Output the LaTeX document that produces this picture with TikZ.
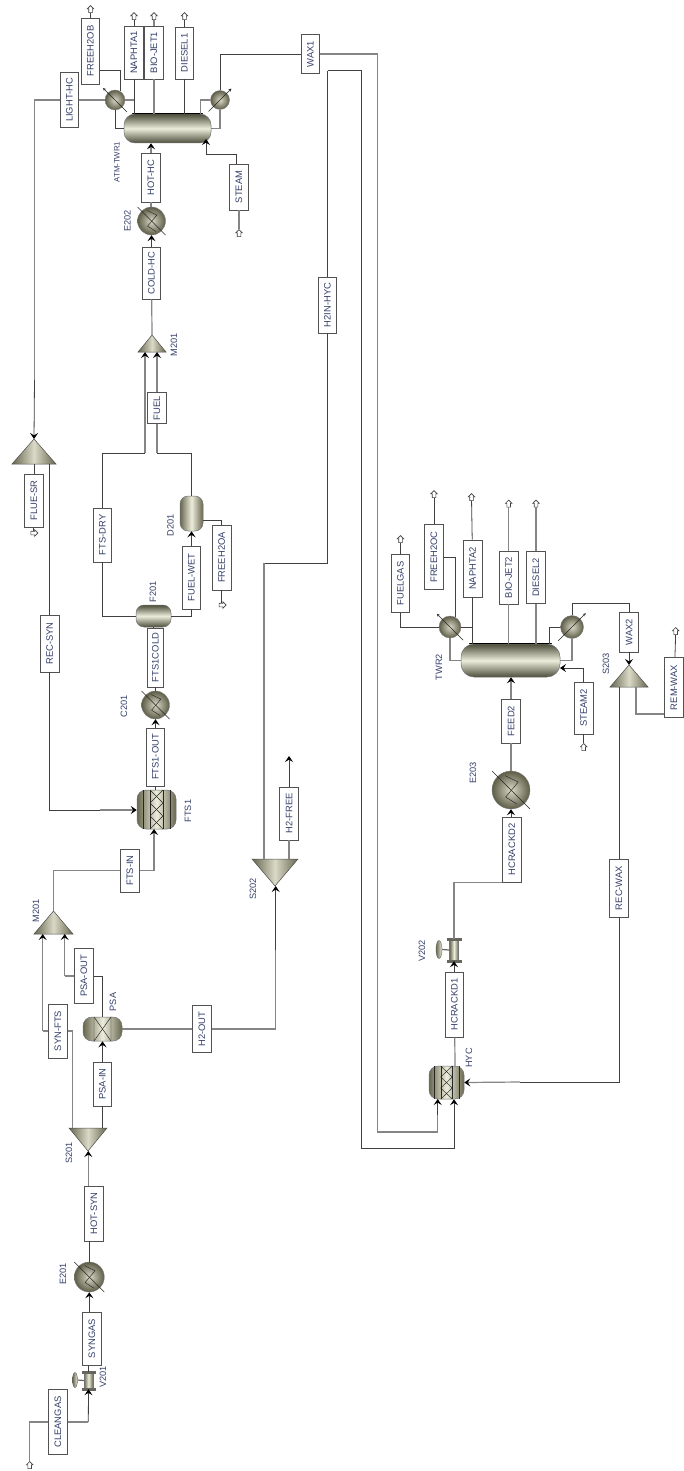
\documentclass[tikz,border=0pt]{standalone}
\usepackage{fontspec}
\setmainfont{Liberation Sans}
\usetikzlibrary{arrows.meta,calc,shapes.arrows,shapes.geometric}
\definecolor{labelink}{HTML}{35406A}
\definecolor{metaldark}{HTML}{67674F}
\definecolor{metallight}{HTML}{EDEDDC}
\tikzset{
  tag/.style={draw=black!68, line width=0.9pt, fill=white, rotate=90, inner sep=0pt,
    minimum width=#1pt, minimum height=18.5pt, font=\fontsize{9.4}{10}\selectfont, text=labelink},
  blocktag/.style={rotate=90, inner sep=0pt, font=\fontsize{9.2}{10}\selectfont, text=labelink},
  outup/.style={single arrow, draw=black!75, fill=white, line width=0.6pt, rotate=90, inner xsep=0pt, inner ysep=1.5pt,
    minimum height=7pt, single arrow head extend=1.5pt},
  outdown/.style={outup, rotate=-90},
  stream/.style={draw=black!75, line width=0.8pt},
  streamg/.style={draw=black!48, line width=1.2pt},
  into/.style={-{Stealth[length=6pt, width=8pt, inset=2.4pt, black]}},
  drum/.style={draw=black!55, line width=0.5pt, rounded corners=#1pt, top color=metaldark!75!black,
    bottom color=metaldark!75!black, middle color=metallight, inner sep=0pt},
  bed/.style={draw=black!55, line width=0.5pt, rounded corners=9pt, left color=metaldark,
    right color=metaldark, middle color=metallight, inner sep=0pt},
  ball/.style={circle, draw=black!50, line width=0.4pt, inner color=metallight!85!metaldark, outer color=metaldark!90!black,
    inner sep=0pt, minimum size=#1pt},
  hood/.style={inner sep=0pt, outer sep=0pt, minimum width=#1pt},
  cone/.style={draw=black!70, line width=0.5pt, left color=metaldark, right color=metaldark, middle color=metallight!85!metaldark},
  valvebody/.style={draw=black!55, line width=0.4pt, left color=metaldark, right color=metaldark, middle color=metallight,
    inner sep=0pt, minimum width=9pt, minimum height=#1pt},
  wheel/.style={ellipse, draw=black!60, line width=0.4pt, left color=metaldark, right color=metallight, inner sep=0pt},
  thinline/.style={draw=black!85, line width=0.45pt}
}
\begin{document}
\begin{tikzpicture}[x=1pt, y=-1pt]
\useasboundingbox (0,0) rectangle (683,1471);
% Equipment
\node[drum=11, minimum width=87pt, minimum height=29pt] (twr1) at (167.5,128.5) {};
\node[drum=13, minimum width=99pt, minimum height=33pt] (twr2) at (510.5,660.5) {};
\node[ball=20] (cond1) at (115,100) {};
\node[ball=19] (reb1) at (220,100) {};
\node[ball=22] (cond2) at (450,627) {};
\node[ball=23] (reb2) at (572,627) {};
\node[ball=30] (e201) at (89.3,1277) {};
\node[ball=28] (e202) at (151.5,221) {};
\node[ball=28] (c201) at (155.5,705) {};
\node[ball=38] (e203) at (511,790) {};
\node[bed, minimum width=39pt, minimum height=39pt] (fts1) at (156.5,809.5) {};
\node[bed, minimum width=35pt, minimum height=33pt] (hyc) at (446.5,1082.5) {};
\node[bed, minimum width=39pt, minimum height=24pt] (psa) at (102.5,1029) {};
\node[drum=8, minimum width=35pt, minimum height=22pt] (f201) at (153.5,616) {};
\node[bed, rounded corners=8pt, minimum width=23pt, minimum height=35pt] (d201) at (191.5,513.5) {};
\node[valvebody=17] (v201) at (88.5,1380.5) {};
\node[valvebody=22] (v202) at (454,950) {};
\node[wheel, minimum width=5pt, minimum height=15pt] (v201w) at (75,1380) {};
\node[wheel, minimum width=6pt, minimum height=18pt] (v202w) at (439,949.5) {};
% Mixers and splitters
\node[hood=28, minimum height=17pt] (m201a) at (152,343.5) {};
\node[hood=44, minimum height=25pt] (fluesr) at (34,451.5) {};
\node[hood=39, minimum height=23pt] (m201b) at (53.5,922.5) {};
\node[hood=46, minimum height=27pt] (s202) at (275,872.5) {};
\node[hood=38, minimum height=23pt] (s201) at (88,1139.5) {};
\node[hood=38, minimum height=22pt] (s203) at (629,676) {};
\foreach \up in {m201a,fluesr,m201b,s203}
  \draw[cone] (\up.south west) -- (\up.south east) -- (\up.north) -- cycle;
\foreach \dn in {s202,s201}
  \draw[cone] (\dn.north west) -- (\dn.north east) -- (\dn.south) -- cycle;
% Equipment details
\foreach \col in {twr1,twr2}
  \draw[black, line width=1.3pt, line cap=round] ($(\col.north west)+(9,0)$) -- ($(\col.north east)+(-9,0)$);
\foreach \hx/\r in {e201/15,e202/14,c201/14,e203/19} {
  \draw[thinline] ($(\hx)+(-\r,-\r)$) -- ($(\hx)+(\r,\r)$);
  \draw[thinline] ($(\hx)+(-.3*\r,-.75*\r)$) -- ($(\hx)+(.38*\r,-.42*\r)$) -- ($(\hx)+(-.28*\r,.37*\r)$) -- ($(\hx)+(.32*\r,.75*\r)$);
}
\foreach \cd/\r in {cond1/10,cond2/11}
  \draw[thinline, {Stealth[open, length=3pt, width=3pt]}-] ($(\cd)+(-1.2*\r,-1.2*\r)$) -- ($(\cd)+(1.2*\r,1.2*\r)$);
\foreach \rb/\r in {reb1/9.5,reb2/11.5}
  \draw[thinline, -{Stealth[open, length=3pt, width=3pt]}] ($(\rb)+(-1.2*\r,1.2*\r)$) -- ($(\rb)+(1.2*\r,-1.2*\r)$);
\foreach \rx/\w/\h in {fts1/19.5/19.5,hyc/17.5/16.5} {
  \foreach \lx in {-.7,-.33,.33,.7}
    \draw[thinline] ($(\rx)+(\lx*\w,-\h)$) -- ($(\rx)+(\lx*\w,\h)$);
  \foreach \k in {0,1,2} {
    \draw[thinline] ($(\rx)+(-.33*\w,-\h+.667*\k*\h)$) -- ($(\rx)+(.33*\w,-\h+.667*\k*\h+.667*\h)$);
    \draw[thinline] ($(\rx)+(.33*\w,-\h+.667*\k*\h)$) -- ($(\rx)+(-.33*\w,-\h+.667*\k*\h+.667*\h)$);
  }
}
\draw[thinline] (94,1017) -- (94,1041) -- (111,1017) -- (111,1041);
\draw[thinline] (94,1017) -- (111,1041);
\foreach \vlv in {v201,v202} {
  \fill[metaldark, draw=black!60, line width=0.3pt] ($(\vlv.north west)+(-2,-1)$) rectangle ($(\vlv.north east)+(2,1.5)$);
  \fill[metaldark, draw=black!60, line width=0.3pt] ($(\vlv.south west)+(-2,-1.5)$) rectangle ($(\vlv.south east)+(2,1)$);
}
\draw[draw=black!60, line width=1.2pt] (v201.west) -- (v201w.east);
\draw[draw=black!60, line width=1.2pt] (v202.west) -- (v202w.east);
% Stream tags
\node[tag=66] (freeh2ob) at (90.5,51) {FREEH2OB};
\node[tag=55] (lighthc) at (69.5,100) {LIGHT-HC};
\node[tag=53] (naphta1) at (134,52.5) {NAPHTA1};
\node[tag=53] (biojet1) at (154,52.5) {BIO-JET1};
\node[tag=52] (diesel1) at (184.5,53) {DIESEL1};
\node[tag=39] (wax1) at (310.5,54) {WAX1};
\node[tag=49] (hothc) at (151,177.5) {HOT-HC};
\node[tag=46] (steam) at (239,187) {STEAM};
\node[tag=52] (coldhc) at (151.5,273) {COLD-HC};
\node[tag=56] (h2inhyc) at (327.5,305) {H2IN-HYC};
\node[tag=31] (fuel) at (157,408) {FUEL};
\node[tag=53] (fuesr) at (34,500.5) {FLUE-SR};
\node[tag=54] (ftsdry) at (102.5,535) {FTS-DRY};
\node[tag=63] (fuelwet) at (191.5,577.5) {FUEL-WET};
\node[tag=65] (freeh2oa) at (221.7,557.5) {FREEH2OA};
\node[tag=57] (recsyn) at (49.7,643.5) {REC-SYN};
\node[tag=59, minimum height=15.5pt] (fts1cold) at (155.5,657.5) {FTS1COLD};
\node[tag=58] (fts1out) at (155.5,757) {FTS1-OUT};
\node[tag=53] (h2free) at (289,813.5) {H2-FREE};
\node[tag=43] (ftsin) at (130,870.5) {FTS-IN};
\node[tag=55] (psaout) at (84,976) {PSA-OUT};
\node[tag=54] (synfts) at (58,1031) {SYN-FTS};
\node[tag=47] (h2out) at (202,1029) {H2-OUT};
\node[tag=44] (psain) at (102.5,1084) {PSA-IN};
\node[tag=55] (hotsyn) at (94,1213.5) {HOT-SYN};
\node[tag=53] (syngas) at (92,1338.5) {SYNGAS};
\node[tag=65] (cleangas) at (58,1422) {CLEANGAS};
\node[tag=58] (fuelgas) at (400.5,583.5) {FUELGAS};
\node[tag=65] (freeh2oc) at (434,557) {FREEH2OC};
\node[tag=57] (naphta2) at (472.7,568.5) {NAPHTA2};
\node[tag=53] (biojet2) at (508.7,577.5) {BIO-JET2};
\node[tag=52] (diesel2) at (536,577.5) {DIESEL2};
\node[tag=40] (wax2) at (629,632) {WAX2};
\node[tag=60] (remwax) at (674,687.5) {REM-WAX};
\node[tag=52] (steam2) at (583.7,708) {STEAM2};
\node[tag=44] (feed2) at (511,721) {FEED2};
\node[tag=65] (hcrackd2) at (512,849.5) {HCRACKD2};
\node[tag=58] (recwax) at (619,888) {REC-WAX};
\node[tag=65] (hcrackd1) at (454.5,1004.5) {HCRACKD1};
% Open ends
\node[outup] (o1) at (90.5,10) {};
\node[outup] (o2) at (134,17) {};
\node[outup] (o3) at (154,17) {};
\node[outup] (o4) at (184.5,17) {};
\node[outup] (i1) at (239,234) {};
\node[outdown] (o5) at (33.5,533) {};
\node[outdown] (o6) at (221.7,605) {};
\node[outup] (i2) at (29.7,1466) {};
\node[outup] (o7) at (400.5,540) {};
\node[outup] (o8) at (434,495) {};
\node[outup] (o9) at (471.5,498) {};
\node[outup] (o10) at (508.7,504.5) {};
\node[outup] (o11) at (536,504.5) {};
\node[outup] (o12) at (675.7,632) {};
\node[outup] (i3) at (583.7,748) {};
\coordinate (freetop) at (289,756);
% First column section
\draw[stream] (freeh2ob) -- (o1);
\draw[stream] (freeh2ob.south |- 0,70) -| (cond1.60);
\draw[streamg] (cond1) -- (lighthc);
\draw[streamg] (lighthc) -| (34.5,380);
\draw[stream, into] (34.5,380) -- (fluesr.north);
\draw[stream] (naphta1) -- (o2);
\draw[stream] (naphta1) -- (naphta1 |- twr1.north);
\draw[streamg] (biojet1) -- (o3);
\draw[streamg] (biojet1) -- (biojet1 |- twr1.north);
\draw[stream] (diesel1) -- (o4);
\draw[stream] (diesel1) -- (diesel1 |- twr1.north);
\draw[streamg] (cond1) -- (134,100);
\draw[stream] (cond1) |- (twr1.west);
\draw[streamg] (200.7,114) |- (reb1);
\draw[streamg] (twr1.east) -| (reb1);
\draw[stream] (reb1) |- (wax1);
\draw[streamg] (wax1) -| (377.7,1132) -| (437.7,1101);
\draw[stream, into] (437.7,1115) -- (437.7,1099);
\draw[stream] (327.5,70.7) -- (h2inhyc);
\draw[stream] (327.5,70.7) -- (361.7,70.7) -- (361.7,1148) -| (454,1115);
\draw[stream, into] (454,1115) -- (hyc.south -| 454,0);
\draw[stream] (h2inhyc) |- (264,563);
\draw[streamg] (264,563) -- (264,859);
\draw[stream] (steam.east -| 236.7,0) |- (206,154);
\draw[stream, into] (206,154) -- (206,139);
\draw[streamg] (i1) -- (steam);
\draw[streamg, into] (hothc) -- (hothc |- twr1.south);
\draw[streamg] (hothc) -- (hothc |- e202.north);
\draw[stream, into] (coldhc) -- (coldhc |- e202.south);
\draw[streamg] (coldhc) -- (m201a.north);
% Fuel recovery
\draw[streamg, into] (145,453) -- (145,352);
\draw[streamg, into] (fuel) -- (fuel |- m201a.south);
\draw[stream] (145,453) -| (ftsdry);
\draw[streamg] (fuel) -- (157,453);
\draw[stream] (157,453) -| (d201.north);
\draw[stream] (ftsdry) |- (f201.west);
\draw[stream] (f201.east) -| (fuelwet);
\draw[stream, into] (fuelwet) -- (d201.south);
\draw[stream] (d201.east |- 0,520) -| (freeh2oa);
\draw[stream] (freeh2oa) -- (o6);
\draw[stream] (f201) -- (f201 |- fts1cold.east);
\draw[stream] (fts1cold) -- (c201);
\draw[stream, into] (fts1out) -- (c201.south);
\draw[stream] (fts1out) -- (fts1out |- fts1.north);
% Flue and recycle
\draw[stream] (fluesr.south -| 34,0) -- (fuesr);
\draw[stream] (fuesr) -- (o5);
\draw[stream] (49.7,464) -- (recsyn);
\draw[stream] (recsyn) |- (100,810);
\draw[streamg, into] (100,810) -- (fts1.west |- 0,810);
% Synthesis gas train
\draw[streamg] (m201b.north) |- (ftsin);
\draw[streamg, into] (ftsin) -| (154,829);
\draw[streamg, into] (42.7,1031) -- (42.7,934);
\draw[streamg] (synfts) -- (42.7,1031);
\draw[streamg] (synfts) -| (72.7,1128);
\draw[streamg, into] (64.7,976) -- (64.7,934);
\draw[streamg] (psaout) -- (64.7,976);
\draw[stream] (psaout) -| (psa.north);
\draw[stream, into] (psain) -- (psa.south);
\draw[stream] (psain) -- (psain |- 0,1128);
\draw[streamg] (psa) -- (h2out);
\draw[streamg] (h2out) -| (275.7,950);
\draw[stream, into] (275.7,950) -- (275.7,886);
\draw[streamg] (h2free |- s202.north) -- (h2free);
\draw[stream, -{Stealth[length=6pt, width=8pt, inset=2.4pt, black]}] (h2free) -- (freetop);
\draw[streamg, into] (hotsyn.east -| 88.3,0) -- (88.3,1151);
\draw[stream] (hotsyn.west -| 89.3,0) -- (e201.north);
\draw[stream, into] (syngas.east -| 89.3,0) -- (e201.south);
\draw[stream] (syngas.west -| 88.5,0) -- (v201.north);
\draw[stream, into] (88.3,1422) -- (v201.south);
\draw[streamg] (cleangas) -- (88.3,1422);
\draw[streamg] (cleangas) -| (i2);
% Second column section
\draw[stream] (fuelgas) -- (o7);
\draw[stream] (fuelgas) |- (cond2);
\draw[stream] (freeh2oc) -- (o8);
\draw[stream] (freeh2oc) -| (cond2.60);
\draw[stream] (naphta2) -- (o9);
\draw[stream] (naphta2) -- (naphta2 |- twr2.north);
\draw[stream] (cond2) -- (472.7,627);
\draw[streamg] (biojet2) -- (o10);
\draw[streamg] (biojet2) -- (biojet2 |- twr2.north);
\draw[streamg] (diesel2) -- (o11);
\draw[streamg] (diesel2) -- (diesel2 |- twr2.north);
\draw[streamg] (cond2) |- (twr2.west);
\draw[stream] (549.7,644) |- (reb2);
\draw[streamg] (twr2.east) -| (reb2);
\draw[stream] (reb2) |- (629,603);
\draw[stream] (629,603) -- (wax2);
\draw[stream, into] (wax2) -- (s203.north);
\draw[stream] (remwax) -- (o12);
\draw[streamg] (remwax.north |- 0,714) -| (636,687);
\draw[stream] (619,687) -- (recwax);
\draw[stream] (recwax) |- (520,1082);
\draw[streamg, into] (520,1082) -- (hyc.east);
\draw[stream] (i3) -- (steam2);
\draw[stream] (steam2) |- (575,668);
\draw[stream, into] (575,668) -- (560,668);
\draw[streamg, into] (feed2) -- (feed2 |- twr2.south);
\draw[streamg] (feed2) -- (e203.north);
\draw[stream, into] (511,817) -- (e203.south);
\draw[streamg] (hcrackd2.north west) -| (v202.north);
\draw[stream, into] (hcrackd1.east -| 454,0) -- (v202.south);
\draw[streamg] (hcrackd1) -- (455,1066);
% Block names
\node[blocktag, font=\fontsize{7.8}{10}\selectfont] (t1) at (117,162) {ATM-TWR1};
\node[blocktag] (t2) at (127.5,221) {E202};
\node[blocktag] (t3) at (174,345) {M201};
\node[blocktag] (t5) at (124,706) {C201};
\node[blocktag] (t6) at (153,592) {F201};
\node[blocktag] (t7) at (170.5,525) {D201};
\node[blocktag] (t8) at (188,811) {FTS1};
\node[blocktag] (t9) at (253,889) {S202};
\node[blocktag] (t10) at (36,911) {M201};
\node[blocktag] (t11) at (113,1002) {PSA};
\node[blocktag] (t12) at (69,1153) {S201};
\node[blocktag] (t13) at (63,1274) {E201};
\node[blocktag] (t14) at (103,1377) {V201};
\node[blocktag] (t15) at (439,667) {TWR2};
\node[blocktag] (t16) at (473,773) {E203};
\node[blocktag] (t17) at (606,664) {S203};
\node[blocktag] (t18) at (422,951) {V202};
\node[blocktag] (t19) at (469,1058) {HYC};
\end{tikzpicture}
\end{document}
